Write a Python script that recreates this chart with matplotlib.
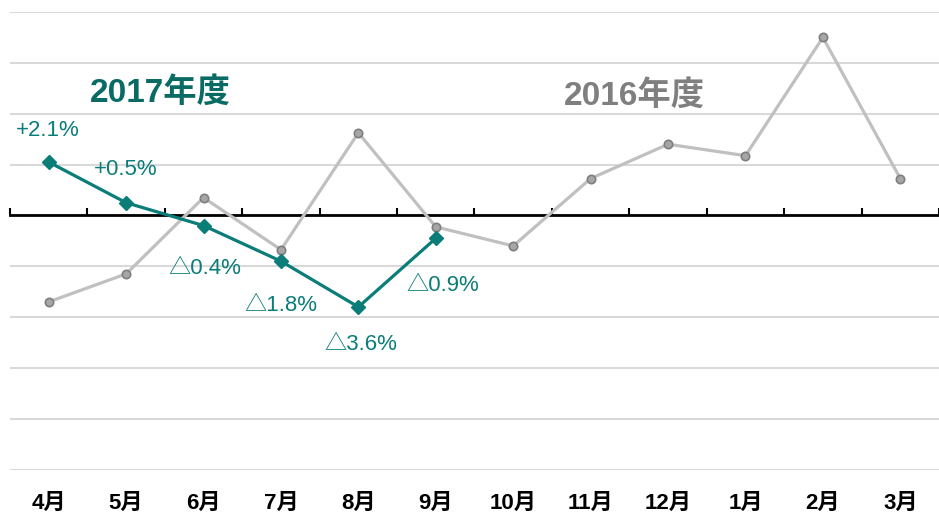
import matplotlib
matplotlib.use("Agg")
import matplotlib.pyplot as plt
import numpy as np

plt.rcParams['font.family'] = ['Noto Sans CJK JP', 'DejaVu Sans']

# Data
months = ["4月", "5月", "6月", "7月", "8月", "9月", "10月", "11月", "12月", "1月", "2月", "3月"]
fy2016 = [-3.4, -2.3, 0.7, -1.35, 3.25, -0.45, -1.2, 1.45, 2.8, 2.35, 7.0, 1.45]
fy2017 = [2.1, 0.5, -0.4, -1.8, -3.6, -0.9]
fy2017_labels = ["+2.1%", "+0.5%", "△0.4%", "△1.8%", "△3.6%", "△0.9%"]

TEAL = "#0a7d79"
TEAL_DARK = "#0a6b64"
GRAY_LINE = "#c0c0c0"
GRAY_TEXT = "#7f7f7f"
LABEL_FONT = ['Liberation Sans', 'Noto Sans CJK JP']
TITLE_FONT = ['Liberation Sans', 'Noto Sans CJK JP']

fig = plt.figure(figsize=(9.39, 5.14), dpi=100)
ax = fig.add_axes([10 / 939, 1 - 469.7 / 514, 929 / 939, (469.7 - 12) / 514])

x = np.arange(len(months))
x17 = np.arange(len(fy2017))

ax.set_xlim(-0.5, len(months) - 0.5)
ax.set_ylim(-10, 8)

# horizontal grid
ax.set_yticks(np.arange(-10, 9, 2))
ax.yaxis.grid(True, color="#d9d9d9", linewidth=1.5)
ax.set_axisbelow(True)
ax.tick_params(axis="y", length=0, labelleft=False)
for s in ax.spines.values():
    s.set_visible(False)

# month labels at the bottom
ax.set_xticks(x)
ax.set_xticklabels(months, fontsize=16, fontweight="bold", family=TITLE_FONT)
ax.tick_params(axis="x", length=0, pad=17)

# zero axis with tick marks between categories
ax2 = ax.twiny()
ax2.set_xlim(ax.get_xlim())
ax2.spines["bottom"].set_position(("data", 0))
ax2.spines["bottom"].set_linewidth(2)
ax2.spines["bottom"].set_color("black")
for side in ["top", "left", "right"]:
    ax2.spines[side].set_visible(False)
ax2.xaxis.set_ticks_position("bottom")
ax2.set_xticks(np.arange(-0.5, len(months), 1))
ax2.tick_params(axis="x", direction="in", length=5, width=1.5, labelbottom=False, labeltop=False)

# series
ax2.plot(x, fy2016, color=GRAY_LINE, linewidth=2.3, marker="o", markersize=6,
         markerfacecolor="#a6a6a6", markeredgecolor="#7f7f7f", markeredgewidth=1.2, zorder=3)
ax2.plot(x17, fy2017, color=TEAL, linewidth=2.3, marker="D", markersize=7.5,
         markerfacecolor=TEAL, markeredgecolor=TEAL, zorder=4)

# point labels (offsets in points)
offsets = [(-1, 23), (0, 24), (1, -31), (0, -32), (2, -27), (5, -34)]
for xi, yi, lab, off in zip(x17, fy2017, fy2017_labels, offsets):
    ax2.annotate(lab, (xi, yi), xytext=off, textcoords="offset points",
                 ha="center", va="center", fontsize=16, color=TEAL, family=LABEL_FONT)

ax2.text(1.44, 4.82, "2017年度", ha="center", va="center", fontsize=24,
         fontweight="bold", color=TEAL_DARK, family=TITLE_FONT)
ax2.text(7.57, 4.7, "2016年度", ha="center", va="center", fontsize=24,
         fontweight="bold", color=GRAY_TEXT, family=TITLE_FONT)

fig.savefig("out.png", dpi=100)
